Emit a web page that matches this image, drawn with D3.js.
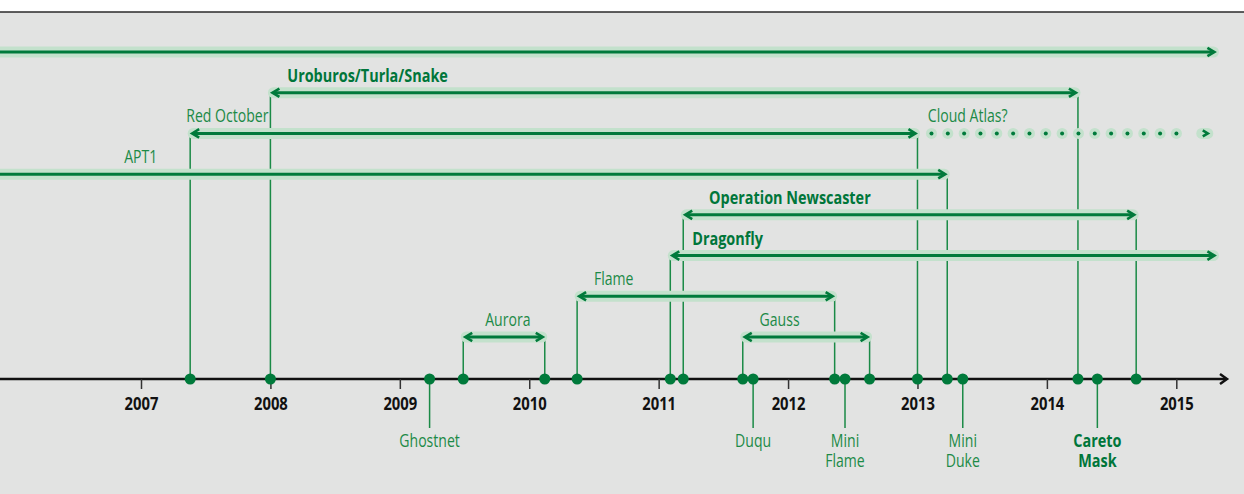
<!DOCTYPE html>
<html>
<head>
<meta charset="utf-8">
<script src="https://cdn.jsdelivr.net/npm/d3@7"></script>
<style>
  html, body { margin: 0; padding: 0; background: #ffffff; }
  svg { display: block; }
  text { font-family: "Open Sans", "Noto Sans", sans-serif; }
</style>
</head>
<body>
<svg id="chart" width="1244" height="494"></svg>
<script>
// ---------- DATA ----------
const years = [2007, 2008, 2009, 2010, 2011, 2012, 2013, 2014, 2015];

// campaigns drawn as spans (decimal years)
const spanNames  = ["", "Uroburos/Turla/Snake", "Red October", "APT1", "Operation Newscaster", "Dragonfly", "Flame", "Aurora", "Gauss"];
const spanStart  = [2005.0, 2008.0, 2007.38, 2005.0, 2011.19, 2011.09, 2010.37, 2009.49, 2011.65];
const spanEnd    = [2015.31, 2014.24, 2013.0, 2013.23, 2014.69, 2015.31, 2012.36, 2010.12, 2012.63];
const spanRow    = [0, 1, 2, 3, 4, 5, 6, 7, 7];
const spanStartEvent = [false, true, true, false, true, true, true, true, true];
const spanEndEvent   = [false, true, true, true, true, false, true, true, true];
const spanBold   = [false, true, false, false, true, true, false, false, false];
const spanLabelYear = [null, 2008.13, 2007.35, 2006.87, 2011.39, 2011.26, 2010.50, 2009.66, 2011.78];

// uncertain continuation (dotted)
const dottedName  = "Cloud Atlas?";
const dottedStart = 2013.0;
const dottedEnd   = 2015.22;
const dottedRow   = 2;
const dottedLabelYear = 2013.08;

// single events below the axis
const eventNames = [["Ghostnet"], ["Duqu"], ["Mini", "Flame"], ["Mini", "Duke"], ["Careto", "Mask"]];
const eventYears = [2009.23, 2011.73, 2012.44, 2013.35, 2014.39];
const eventBold  = [false, false, false, false, true];

// ---------- STYLE ----------
const W = 1244, H = 494;
const dark = "#007a3b", halo = "#c3e1cc", txt = "#1c8a47", txtBold = "#00763a";
const axisY = 379;
const FS = 18.5;                     // font size
const SX_REG = 0.76, SX_BOLD = 0.78, SX_TICK = 0.8; // horizontal condensing

const svg = d3.select("#chart");
const x = d3.scaleLinear().domain([2007, 2015]).range([141, 1176.3]);
const y = d3.scaleLinear().domain([0, 7]).range([52, 337]);

// background
svg.append("rect").attr("x", 0).attr("y", 12).attr("width", W).attr("height", H - 12).attr("fill", "#e2e3e2");
svg.append("line").attr("x1", 0).attr("x2", W).attr("y1", 12).attr("y2", 12).attr("stroke", "#2a2a2a").attr("stroke-width", 1.5);

const spans = spanNames.map((n, i) => ({
  name: n, s: spanStart[i], e: spanEnd[i], row: spanRow[i],
  se: spanStartEvent[i], ee: spanEndEvent[i], bold: spanBold[i], ly: spanLabelYear[i]
}));

// connectors from axis up to spans
const conn = [];
spans.forEach(d => {
  if (d.se) conn.push({ yr: d.s, row: d.row });
  if (d.ee) conn.push({ yr: d.e, row: d.row });
});
svg.append("g").selectAll("line").data(conn).join("line")
  .attr("x1", d => x(d.yr)).attr("x2", d => x(d.yr))
  .attr("y1", axisY).attr("y2", d => y(d.row))
  .attr("stroke", "#1a8a46").attr("stroke-width", 1.5);

// connectors down to events
const events = eventNames.map((n, i) => ({ lines: n, yr: eventYears[i], bold: eventBold[i] }));
svg.append("g").selectAll("line").data(events).join("line")
  .attr("x1", d => x(d.yr)).attr("x2", d => x(d.yr))
  .attr("y1", axisY).attr("y2", 428)
  .attr("stroke", "#1a8a46").attr("stroke-width", 1.5);

// halos
svg.append("g").selectAll("line").data(spans).join("line")
  .attr("x1", d => x(d.s) + 3).attr("x2", d => x(d.e) - 3)
  .attr("y1", d => y(d.row)).attr("y2", d => y(d.row))
  .attr("stroke", halo).attr("stroke-width", 11).attr("stroke-linecap", "round");

// dark lines
svg.append("g").selectAll("line").data(spans).join("line")
  .attr("x1", d => x(d.s) + 3).attr("x2", d => x(d.e) - 3)
  .attr("y1", d => y(d.row)).attr("y2", d => y(d.row))
  .attr("stroke", dark).attr("stroke-width", 3);

// arrowheads
function arrow(g, tipX, yy, dir, size) {
  const l = size || 7, h = (size || 7) * 0.6;
  g.append("path")
    .attr("d", `M${tipX - dir * l},${yy - h}L${tipX},${yy}L${tipX - dir * l},${yy + h}`)
    .attr("fill", "none").attr("stroke", dark).attr("stroke-width", 2.6)
    .attr("stroke-linejoin", "miter");
}
const ag = svg.append("g");
spans.forEach(d => {
  arrow(ag, x(d.e) - 2, y(d.row), 1);
  if (x(d.s) > 0) arrow(ag, x(d.s) + 2, y(d.row), -1);
});

// dotted continuation
const dg = svg.append("g");
const dx0 = x(dottedStart) + 14, dx1 = x(dottedEnd) - 25;
const dots = d3.range(dx0, dx1, 16.33);
dg.selectAll("circle.h").data(dots).join("circle").attr("class", "h")
  .attr("cx", d => d).attr("cy", y(dottedRow)).attr("r", 5.5).attr("fill", halo);
dg.selectAll("circle.d").data(dots).join("circle").attr("class", "d")
  .attr("cx", d => d).attr("cy", y(dottedRow)).attr("r", 2).attr("fill", dark);
dg.append("line").attr("x1", x(dottedEnd) - 3).attr("x2", x(dottedEnd) + 3)
  .attr("y1", y(dottedRow)).attr("y2", y(dottedRow))
  .attr("stroke", halo).attr("stroke-width", 11).attr("stroke-linecap", "round");
arrow(dg, x(dottedEnd) + 3, y(dottedRow), 1, 5);

// axis line with arrow
svg.append("line").attr("x1", 0).attr("x2", 1226).attr("y1", axisY).attr("y2", axisY)
  .attr("stroke", "#111").attr("stroke-width", 2.5);
svg.append("path").attr("d", `M1220,${axisY - 5}L1227,${axisY}L1220,${axisY + 5}`)
  .attr("fill", "none").attr("stroke", "#111").attr("stroke-width", 2.5);

const axis = d3.axisBottom(x).tickValues(years).tickFormat(d3.format("d")).tickSize(10).tickSizeOuter(0).tickPadding(8);
const axG = svg.append("g").attr("transform", `translate(0,${axisY})`).call(axis);
axG.select(".domain").remove();
axG.selectAll(".tick line").attr("stroke", "#333").attr("stroke-width", 1.5);
axG.selectAll(".tick text")
  .attr("font-size", FS).attr("font-weight", "bold").attr("fill", "#111")
  .attr("font-family", '"Open Sans", "Noto Sans", sans-serif')
  .attr("y", 0).attr("dy", null)
  .attr("transform", `translate(0,31) scale(${SX_TICK},1)`);

// dots on axis
const dotYears = conn.map(d => d.yr).concat(eventYears);
svg.append("g").selectAll("circle").data(dotYears).join("circle")
  .attr("cx", d => x(d)).attr("cy", axisY).attr("r", 5.5).attr("fill", dark);

// span labels
svg.append("g").selectAll("text").data(spans.filter(d => d.name)).join("text")
  .attr("transform", d => `translate(${x(d.ly)},${y(d.row) - 11}) scale(${d.bold ? SX_BOLD : SX_REG},1)`)
  .attr("font-size", FS)
  .attr("font-weight", d => d.bold ? "bold" : "normal")
  .attr("fill", d => d.bold ? txtBold : txt)
  .text(d => d.name);
svg.append("text")
  .attr("transform", `translate(${x(dottedLabelYear)},${y(dottedRow) - 11}) scale(${SX_REG},1)`)
  .attr("font-size", FS).attr("fill", txt).text(dottedName);

// event labels below
const el = svg.append("g").selectAll("text").data(events).join("text")
  .attr("transform", d => `translate(${x(d.yr)},447) scale(${d.bold ? SX_BOLD : SX_REG},1)`)
  .attr("text-anchor", "middle").attr("font-size", FS)
  .attr("font-weight", d => d.bold ? "bold" : "normal")
  .attr("fill", d => d.bold ? txtBold : txt);
el.selectAll("tspan").data(d => d.lines).join("tspan")
  .attr("x", 0)
  .attr("dy", (d, i) => i === 0 ? 0 : 20)
  .text(d => d);
</script>
</body>
</html>
